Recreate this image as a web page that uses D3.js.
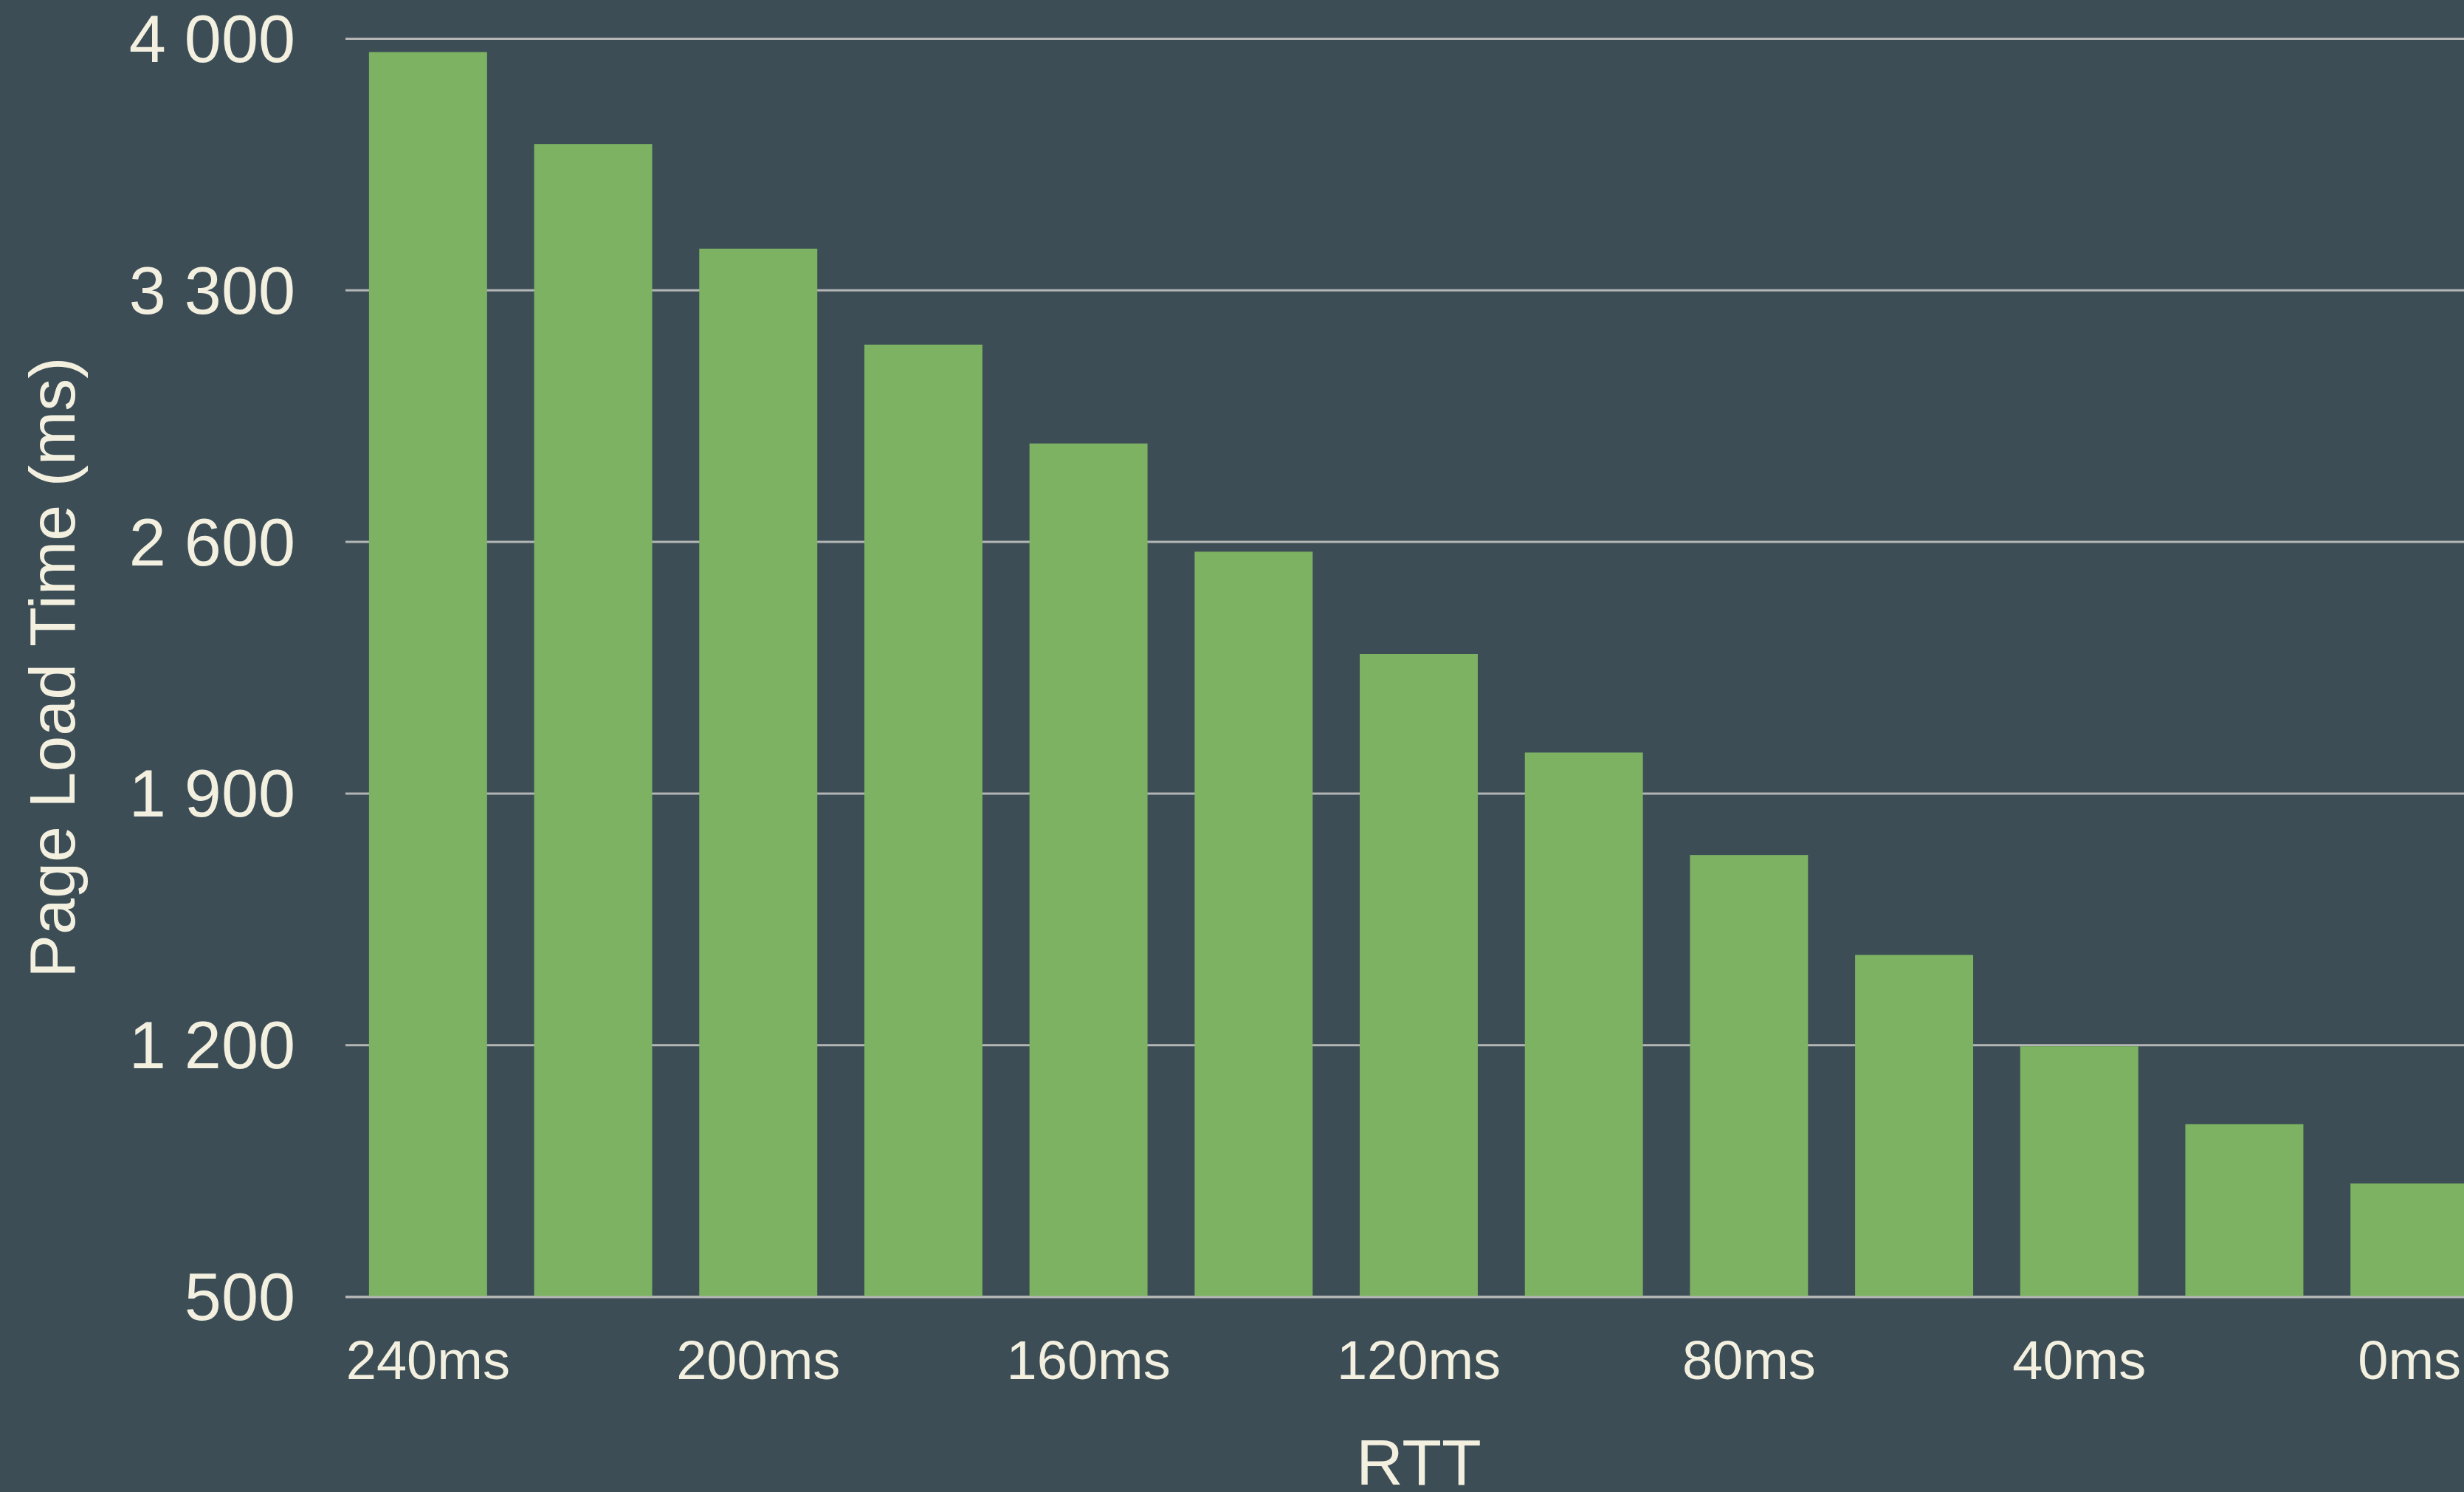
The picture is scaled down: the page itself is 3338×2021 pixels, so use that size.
<!DOCTYPE html>
<html>
<head>
<meta charset="utf-8">
<script src="https://cdn.jsdelivr.net/npm/d3@7"></script>
<style>
  html, body { margin: 0; padding: 0; background: #3c4d56; overflow: hidden; }
  svg { display: block; }
</style>
</head>
<body>
<svg id="chart" width="3338" height="2021"></svg>
<script>
// Page load time by round-trip time
const rttLabels = ["240ms", "220ms", "200ms", "180ms", "160ms", "140ms", "120ms",
                   "100ms", "80ms", "60ms", "40ms", "20ms", "0ms"];
const loadTimes = [3962, 3706, 3415, 3148, 2873, 2572, 2287, 2013, 1728, 1450, 1196, 979, 814];
const yTicks = [500, 1200, 1900, 2600, 3300, 4000];
const xTickLabels = ["240ms", "200ms", "160ms", "120ms", "80ms", "40ms", "0ms"];

const BG = "#3c4d56";
const BAR = "#7cb262";
const TEXT = "#f3f0e0";
const GRID = "#b4b6b6";
const FONT = "'Liberation Sans', Arial, Helvetica, sans-serif";

const margin = { left: 468, top: 52, right: 3376, bottom: 1756 };

const svg = d3.select("#chart");
svg.append("rect").attr("width", 3338).attr("height", 2021).attr("fill", BG);

const x = d3.scaleBand()
  .domain(rttLabels)
  .range([margin.left, margin.right])
  .paddingInner(0.285)
  .paddingOuter(0.1425);

const y = d3.scaleLinear()
  .domain([500, 4000])
  .range([margin.bottom, margin.top]);

const fmt = d3.formatLocale({ decimal: ".", thousands: " ", grouping: [3], currency: ["", ""] }).format(",");

// y axis: labels plus full-width gridlines
const yAxis = svg.append("g")
  .attr("transform", `translate(${margin.left},0)`)
  .call(d3.axisLeft(y)
    .tickValues(yTicks)
    .tickFormat(fmt)
    .tickSizeInner(-(margin.right - margin.left))
    .tickSizeOuter(0)
    .tickPadding(68));
yAxis.select(".domain").remove();
yAxis.selectAll(".tick line").attr("stroke", GRID).attr("stroke-width", 3);
yAxis.selectAll(".tick text")
  .attr("fill", TEXT)
  .attr("font-family", FONT)
  .attr("font-size", 90)
  .attr("dy", "0.35em");

// bars
svg.append("g")
  .selectAll("rect")
  .data(loadTimes)
  .join("rect")
  .attr("x", (d, i) => x(rttLabels[i]))
  .attr("width", x.bandwidth())
  .attr("y", d => y(d))
  .attr("height", d => y(500) - y(d))
  .attr("fill", BAR);

// baseline drawn above the bars
svg.append("line")
  .attr("x1", margin.left).attr("x2", margin.right)
  .attr("y1", y(500) + 1).attr("y2", y(500) + 1)
  .attr("stroke", GRID).attr("stroke-width", 3);

// x axis labels
const xAxis = svg.append("g")
  .attr("transform", `translate(0,${margin.bottom})`)
  .call(d3.axisBottom(x)
    .tickValues(xTickLabels)
    .tickSize(0)
    .tickPadding(59));
xAxis.select(".domain").remove();
xAxis.selectAll(".tick text")
  .attr("fill", TEXT)
  .attr("font-family", FONT)
  .attr("font-size", 74);

// axis titles
svg.append("text")
  .attr("transform", `translate(101,${(margin.top + margin.bottom) / 2}) rotate(-90)`)
  .attr("text-anchor", "middle")
  .attr("fill", TEXT)
  .attr("font-family", FONT)
  .attr("font-size", 88)
  .text("Page Load Time (ms)");

svg.append("text")
  .attr("x", (margin.left + margin.right) / 2)
  .attr("y", 2011)
  .attr("text-anchor", "middle")
  .attr("fill", TEXT)
  .attr("font-family", FONT)
  .attr("font-size", 88)
  .text("RTT");
</script>
</body>
</html>
